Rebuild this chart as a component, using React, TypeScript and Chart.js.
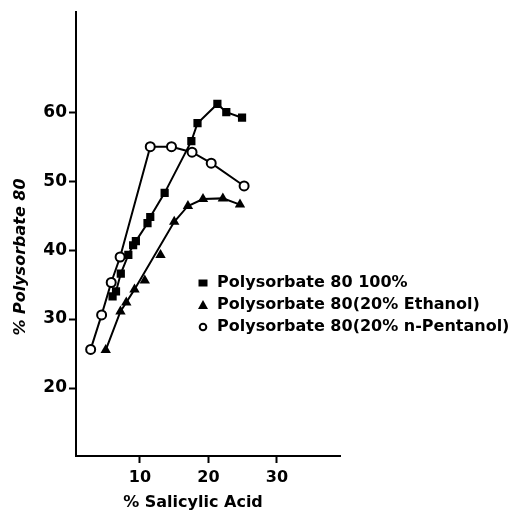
import React, { useEffect, useRef } from "react";
import { Chart, registerables } from "chart.js";
Chart.register(...registerables);

const xTickValues = [10, 20, 30];
const yTickValues = [20, 30, 40, 50, 60];
const xTitle = "% Salicylic Acid";
const yTitle = "% Polysorbate 80";
const seriesLabels = [
  "Polysorbate 80 100%",
  "Polysorbate 80(20% Ethanol)",
  "Polysorbate 80(20% n-Pentanol)",
];

const pureX = [6.0, 6.5, 7.2, 8.3, 9.0, 9.4, 11.1, 11.5, 13.6, 17.5, 18.4, 21.3, 22.6, 24.9];
const pureY = [33.3, 34.0, 36.6, 39.3, 40.7, 41.3, 43.9, 44.8, 48.3, 55.8, 58.4, 61.2, 60.0, 59.2];
const ethanolX = [5.0, 7.15, 8.0, 9.2, 15.0, 17.0, 19.2, 22.1, 24.6];
const ethanolY = [25.5, 31.1, 32.4, 34.3, 44.1, 46.4, 47.4, 47.5, 46.6];
const ethanolExtraX = [10.7, 13.0];
const ethanolExtraY = [35.6, 39.3];
const pentanolX = [2.8, 4.4, 5.8, 7.1, 11.5, 14.6, 17.6, 20.4, 25.2];
const pentanolY = [25.6, 30.6, 35.3, 39.0, 55.0, 55.0, 54.2, 52.6, 49.3];

const FONT = "'DejaVu Sans', sans-serif";

const zip = (xs: number[], ys: number[]) => xs.map((x, i) => ({ x, y: ys[i] }));

const overlay = {
  id: "overlay",
  afterDraw(chart: any) {
    const ctx = chart.ctx as CanvasRenderingContext2D;
    ctx.save();
    ctx.fillStyle = "#000";
    ctx.strokeStyle = "#000";
    ctx.textBaseline = "middle";
    ctx.textAlign = "center";
    ctx.font = `bold 16px ${FONT}`;
    ctx.fillText(xTitle, 193, 503);
    ctx.save();
    ctx.translate(21, 257);
    ctx.rotate(-Math.PI / 2);
    ctx.font = `italic bold 16px ${FONT}`;
    ctx.fillText(yTitle, 0, 0);
    ctx.restore();

    const mx = 203;
    const rows = [283, 305, 327];
    const tx = 217;
    ctx.textAlign = "left";
    ctx.font = `bold 16px ${FONT}`;
    seriesLabels.forEach((lab, i) => {
      const y = rows[i];
      ctx.beginPath();
      if (i === 0) {
        ctx.rect(mx - 4.5, y - 3.5, 9, 7);
        ctx.fill();
      } else if (i === 1) {
        ctx.moveTo(mx, y - 5);
        ctx.lineTo(mx + 5, y + 4);
        ctx.lineTo(mx - 5, y + 4);
        ctx.closePath();
        ctx.fill();
      } else {
        ctx.lineWidth = 2;
        ctx.arc(mx, y, 3.3, 0, Math.PI * 2);
        ctx.stroke();
      }
      ctx.fillText(lab, tx, y);
    });
    ctx.restore();
  },
};

export default function App() {
  const ref = useRef<HTMLCanvasElement>(null);
  useEffect(() => {
    if (!ref.current) return;
    const line = { borderColor: "#000", borderWidth: 2, tension: 0 };
    const chart = new Chart(ref.current, {
      type: "scatter",
      data: {
        datasets: [
          {
            label: seriesLabels[2],
            data: zip(pentanolX, pentanolY),
            showLine: true,
            ...line,
            pointStyle: "circle",
            pointRadius: 4.5,
            pointBorderWidth: 2,
            pointBackgroundColor: "#fff",
            pointBorderColor: "#000",
          },
          {
            label: seriesLabels[0],
            data: zip(pureX, pureY),
            showLine: true,
            ...line,
            pointStyle: "rect",
            pointRadius: 5.8,
            pointBorderWidth: 0,
            pointBackgroundColor: "#000",
            pointBorderColor: "#000",
          },
          {
            label: seriesLabels[1],
            data: zip(ethanolX, ethanolY),
            showLine: true,
            ...line,
            pointStyle: "triangle",
            pointRadius: 6,
            pointBorderWidth: 0,
            pointBackgroundColor: "#000",
            pointBorderColor: "#000",
          },
          {
            label: seriesLabels[1] + " extra",
            data: zip(ethanolExtraX, ethanolExtraY),
            showLine: false,
            pointStyle: "triangle",
            pointRadius: 6,
            pointBorderWidth: 0,
            pointBackgroundColor: "#000",
            pointBorderColor: "#000",
          },
        ],
      },
      options: {
        responsive: false,
        animation: false,
        layout: { padding: { left: 0, top: 12, right: 171, bottom: 0 } },
        plugins: { legend: { display: false }, tooltip: { enabled: false } },
        scales: {
          x: {
            type: "linear",
            min: 0.66,
            max: 39.2,
            afterBuildTicks: (s: any) => {
              s.ticks = xTickValues.map((v) => ({ value: v }));
            },
            afterFit: (s: any) => {
              s.height = 56;
            },
            grid: { drawOnChartArea: false, drawTicks: true, tickLength: 7, tickWidth: 2, tickColor: "#000" },
            border: { display: true, color: "#000", width: 2 },
            ticks: { color: "#000", padding: 5, maxRotation: 0, font: { family: FONT, size: 16, weight: "bold" } },
          },
          y: {
            type: "linear",
            min: 10.14,
            max: 74.5,
            afterBuildTicks: (s: any) => {
              s.ticks = yTickValues.map((v) => ({ value: v }));
            },
            afterFit: (s: any) => {
              s.width = 76;
            },
            grid: { drawOnChartArea: false, drawTicks: true, tickLength: 7, tickWidth: 2, tickColor: "#000" },
            border: { display: true, color: "#000", width: 2 },
            ticks: { color: "#000", padding: 2, font: { family: FONT, size: 17, weight: "bold" } },
          },
        },
      },
      plugins: [overlay],
    } as any);
    return () => chart.destroy();
  }, []);
  return (
    <div style={{ position: "absolute", left: 0, top: 0, width: 511, height: 512, background: "#fff" }}>
      <canvas ref={ref} width={511} height={512} />
    </div>
  );
}
